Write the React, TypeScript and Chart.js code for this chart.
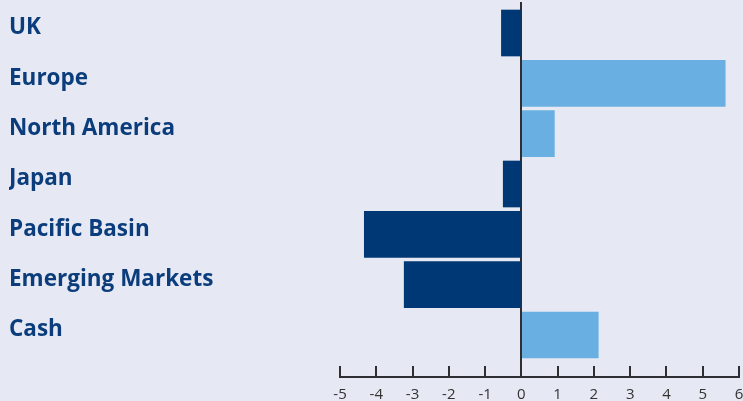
import React, { useEffect, useRef } from "react";
import { Chart, registerables } from "chart.js";

Chart.register(...registerables);

const categories = ["UK", "Europe", "North America", "Japan", "Pacific Basin", "Emerging Markets", "Cash"];
const values = [-0.55, 5.62, 0.91, -0.5, -4.33, -3.23, 2.12];
const xTicks = [-5, -4, -3, -2, -1, 0, 1, 2, 3, 4, 5, 6];

const NAVY = "#003876";
const LIGHT = "#6aafe1";
const BG = "#e6e9f3";
const AXIS = "#2f2f33";

export default function App() {
  const ref = useRef<HTMLCanvasElement | null>(null);

  useEffect(() => {
    if (!ref.current) return;
    const bottomLine = {
      id: "bottomLine",
      afterDraw(chart: any) {
        const x = chart.scales.x;
        const ctx = chart.ctx;
        const y = x.top + 11;
        ctx.save();
        ctx.strokeStyle = AXIS;
        ctx.lineWidth = 2;
        ctx.beginPath();
        ctx.moveTo(x.getPixelForValue(xTicks[0]) - 1, y);
        ctx.lineTo(x.getPixelForValue(xTicks[xTicks.length - 1]) + 1, y);
        ctx.stroke();
        ctx.restore();
      },
    };
    const chart = new Chart(ref.current, {
      type: "bar",
      data: {
        datasets: [
          {
            data: values.map((v, i) => ({ x: v, y: i })),
            backgroundColor: values.map((v) => (v < 0 ? NAVY : LIGHT)),
            barThickness: 46,
            borderWidth: 0,
          },
        ],
      },
      options: {
        indexAxis: "y",
        animation: false,
        responsive: false,
        layout: { padding: { left: 9, right: 4, top: 2, bottom: 0 } },
        plugins: { legend: { display: false }, tooltip: { enabled: false } },
        scales: {
          y: {
            type: "linear",
            reverse: true,
            offset: false,
            min: -0.616,
            max: 6.616,
            afterBuildTicks: (scale: any) => {
              scale.ticks = categories.map((_, i) => ({ value: i }));
            },
            afterFit: (scale: any) => {
              scale.width = 331;
              scale.paddingTop = 0;
              scale.paddingBottom = 0;
            },
            grid: { display: false, offset: false },
            border: { display: false },
            ticks: {
              crossAlign: "far",
              labelOffset: -5,
              color: "#0b3d7c",
              font: { family: "'Open Sans'", size: 22.5, weight: "bold" },
              callback: (v: any) => categories[v as number] ?? "",
            },
          },
          x: {
            type: "linear",
            min: xTicks[0],
            max: xTicks[xTicks.length - 1],
            afterBuildTicks: (scale: any) => {
              scale.ticks = xTicks.map((v) => ({ value: v }));
            },
            afterFit: (scale: any) => {
              scale.height = 35;
              scale.paddingRight = 0;
              scale.paddingLeft = 0;
            },
            border: { display: false },
            grid: {
              drawOnChartArea: true,
              color: (c: any) => (c.tick && c.tick.value === 0 ? AXIS : "rgba(0,0,0,0)"),
              lineWidth: 2,
              tickColor: AXIS,
              tickWidth: 2,
              tickLength: 11,
            },
            ticks: {
              padding: 9,
              color: "#333333",
              font: { family: "'Open Sans'", size: 15 },
              callback: (v: any) => String(v),
            },
          },
        },
      },
      plugins: [bottomLine],
    });
    return () => chart.destroy();
  }, []);

  return (
    <div style={{ position: "fixed", left: 0, top: 0, width: 743, height: 401, background: BG }}>
      <canvas ref={ref} width={743} height={401} style={{ display: "block" }} />
    </div>
  );
}
